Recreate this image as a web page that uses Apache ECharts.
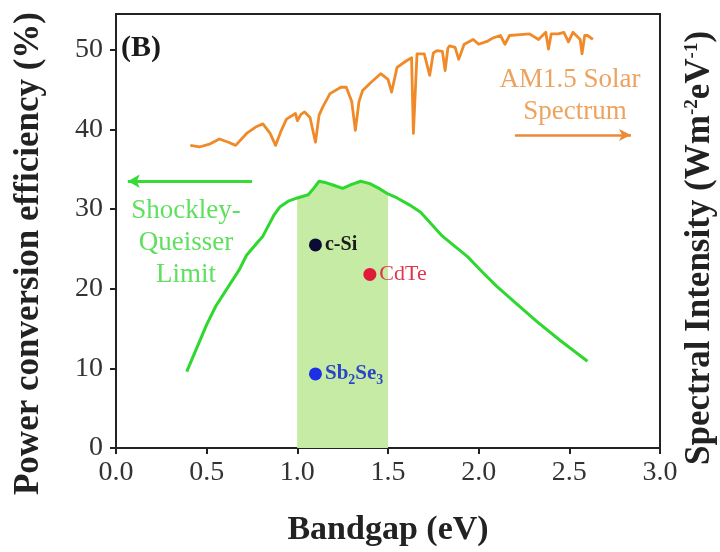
<!DOCTYPE html>
<html><head><meta charset="utf-8">
<script src="https://cdn.jsdelivr.net/npm/echarts@6/dist/echarts.min.js"></script>
<style>html,body{margin:0;padding:0;background:#fff}#c{width:720px;height:552px}</style>
</head><body><div id="c"></div>
<script>
// ---- data ----
var xTicks = [0, 0.5, 1.0, 1.5, 2.0, 2.5, 3.0];
var yTicks = [0, 10, 20, 30, 40, 50];
// Shockley-Queisser limit (bandgap eV, PCE %)
var sqX = [0.39,0.50,0.55,0.68,0.72,0.78,0.81,0.87,0.905,0.95,1.0,1.06,1.09,1.12,1.16,1.20,1.25,1.30,1.35,1.40,1.45,1.50,1.55,1.62,1.68,1.80,1.94,2.02,2.10,2.20,2.32,2.45,2.60];
var sqY = [9.6,15.5,17.8,22.4,24.2,25.8,26.6,29.2,30.3,31.0,31.4,31.8,32.6,33.5,33.3,33.0,32.6,33.1,33.5,33.2,32.6,31.9,31.4,30.5,29.6,26.6,24.0,22.1,20.3,18.3,15.9,13.5,10.9];
// AM1.5 solar spectrum (photon energy eV, relative intensity on right axis)
var specX = [0.41,0.46,0.52,0.57,0.62,0.66,0.72,0.77,0.81,0.85,0.88,0.91,0.94,0.99,1.00,1.02,1.04,1.07,1.10,1.12,1.14,1.18,1.24,1.27,1.30,1.32,1.34,1.36,1.41,1.46,1.50,1.52,1.55,1.60,1.63,1.64,1.66,1.70,1.73,1.75,1.77,1.80,1.815,1.83,1.84,1.87,1.89,1.92,1.97,2.00,2.05,2.08,2.12,2.145,2.17,2.23,2.28,2.33,2.37,2.385,2.40,2.44,2.47,2.495,2.52,2.56,2.57,2.585,2.60,2.63];
var specY = [38.0,37.8,38.2,38.8,38.4,38.0,39.5,40.3,40.7,39.5,38.0,39.8,41.3,42.0,41.1,41.9,42.2,41.5,38.4,41.8,42.8,44.5,45.3,45.3,43.5,39.9,43.5,44.9,46.0,47.0,46.3,44.7,47.8,48.6,49.0,39.5,49.5,49.5,46.8,49.6,49.9,49.8,47.4,50.2,50.5,50.3,48.8,50.7,51.3,50.7,51.1,51.5,51.8,50.7,51.8,51.9,52.0,51.3,52.2,50.1,52.0,52.0,52.2,51.0,52.2,51.3,49.5,51.8,51.8,51.3];
// Devices
var materials = ['c-Si', 'CdTe', 'Sb2Se3'];
var matGap = [1.1, 1.4, 1.1];
var matPCE = [25.5, 21.8, 9.3];
var bandRange = [1.0, 1.5];

// ---- chart ----
var serif = '"Liberation Serif","Times New Roman",serif';
var zip = function(a, b){ return a.map(function(v,i){ return [v, b[i]]; }); };
var sqPts = zip(sqX, sqY);
var bandPts = sqPts.filter(function(p){ return p[0] >= bandRange[0] && p[0] <= bandRange[1]; });
var matColors = {'c-Si':'#0b0b35','CdTe':'#e01a38','Sb2Se3':'#1d2fe6'};
var labelFmt = {
  'c-Si': '{k|c-Si}',
  'CdTe': '{r|CdTe}',
  'Sb2Se3': '{b|Sb}{bs|2}{b|Se}{bs|3}'
};

var chart = echarts.init(document.getElementById('c'), null, {renderer:'canvas'});
chart.setOption({
  animation: false,
  backgroundColor: '#fff',
  grid: {left:116, right:60, top:14, bottom:103, show:true, borderColor:'#222', borderWidth:2, backgroundColor:'transparent'},
  xAxis: {
    type:'value', min:0, max:3, interval:0.5,
    name:'Bandgap (eV)', nameLocation:'middle', nameGap:65,
    nameTextStyle:{fontFamily:serif, fontWeight:'bold', fontSize:34, color:'#222'},
    axisLine:{show:true, lineStyle:{color:'#222', width:2}},
    axisTick:{show:true, inside:false, length:6, lineStyle:{color:'#222', width:2}},
    axisLabel:{fontFamily:serif, fontSize:28, color:'#333', margin:11,
      formatter:function(v){ return xTicks.indexOf(v) >= 0 ? v.toFixed(1) : ''; }},
    splitLine:{show:false}
  },
  yAxis: [{
    type:'value', min:0, max:54.5, interval:10,
    name:'Power conversion efficiency (%)', nameLocation:'middle', nameGap:70,
    nameTextStyle:{fontFamily:serif, fontWeight:'bold', fontSize:35, color:'#222', padding:[0,0,0,-45]},
    axisLine:{show:true, lineStyle:{color:'#222', width:2}},
    axisTick:{show:true, length:6, lineStyle:{color:'#222', width:2}, customValues:yTicks},
    axisLabel:{fontFamily:serif, fontSize:28, color:'#333', margin:13, customValues:yTicks,
      formatter:function(v){ return String(v); }},
    splitLine:{show:false}
  },{
    type:'value', min:0, max:54.5, position:'right',
    axisLine:{show:true, lineStyle:{color:'#222', width:2}},
    axisTick:{show:false}, axisLabel:{show:false}, splitLine:{show:false}
  }],
  series: [
    {
      name:'band', type:'line', data:bandPts, symbol:'none', silent:true, z:1,
      lineStyle:{width:0}, areaStyle:{color:'#c6eba4', opacity:1, origin:'start'},
      markArea:{silent:true, itemStyle:{color:'#c6eba4'}, data:[[{xAxis:bandRange[0], yAxis:0},{xAxis:bandRange[1], yAxis:bandPts[0][1]-0.5}]]}
    },
    {
      name:'AM1.5 Solar Spectrum', type:'line', yAxisIndex:1, data:zip(specX, specY), symbol:'none', z:3,
      lineStyle:{color:'#f08a28', width:2.8, join:'round'},
      markLine:{silent:true, symbol:['none','arrow'], symbolSize:[9,12], label:{show:false},
        lineStyle:{color:'#ec8a3a', width:2.5, type:'solid'},
        data:[[{coord:[2.20,39.3]},{coord:[2.84,39.3]}]]}
    },
    {
      name:'Shockley-Queisser Limit', type:'line', data:sqPts, symbol:'none', z:4,
      lineStyle:{color:'#2ed82e', width:3},
      markLine:{silent:true, symbol:['none','arrow'], symbolSize:[10,12], label:{show:false},
        lineStyle:{color:'#35dc35', width:3, type:'solid'},
        data:[[{coord:[0.75,33.5]},{coord:[0.065,33.5]}]]}
    },
    {
      name:'devices', type:'scatter', z:5, symbolSize:13,
      data: materials.map(function(m,i){
        return {value:[matGap[i], matPCE[i]], name:m, itemStyle:{color:matColors[m], opacity:1}};
      }),
      label:{show:true, position:'right', distance:3,
        formatter:function(p){ return labelFmt[p.name]; },
        rich:{
          k:{fontFamily:serif, fontWeight:'bold', fontSize:20, color:'#1a1a1a'},
          r:{fontFamily:serif, fontSize:22, color:'#e0354a'},
          b:{fontFamily:serif, fontWeight:'bold', fontSize:21, color:'#2b45c8'},
          bs:{fontFamily:serif, fontWeight:'bold', fontSize:14, color:'#2b45c8', verticalAlign:'bottom', padding:[12,0,0,0]}
        }}
    }
  ],
  graphic: [
    {type:'text', left:121, top:33, style:{text:'(B)', font:'bold 30px '+serif, fill:'#1a1a1a'}},
    {type:'text', x:186, y:211, style:{text:'Shockley-', font:'27px '+serif, fill:'#5ee05e', align:'center', verticalAlign:'middle'}},
    {type:'text', x:186, y:243, style:{text:'Queisser', font:'27px '+serif, fill:'#5ee05e', align:'center', verticalAlign:'middle'}},
    {type:'text', x:186, y:275, style:{text:'Limit', font:'27px '+serif, fill:'#5ee05e', align:'center', verticalAlign:'middle'}},
    {type:'text', x:570, y:80, style:{text:'AM1.5 Solar', font:'27px '+serif, fill:'#eba35e', align:'center', verticalAlign:'middle'}},
    {type:'text', x:575, y:112, style:{text:'Spectrum', font:'27px '+serif, fill:'#eba35e', align:'center', verticalAlign:'middle'}},
    {type:'text', x:700, y:248, rotation:Math.PI/2,
      style:{text:'{t|Spectral Intensity (Wm}{s|-2}{t|eV}{s|-1}{t|)}', align:'center', verticalAlign:'middle',
        rich:{
          t:{fontFamily:serif, fontWeight:'bold', fontSize:35, fill:'#222'},
          s:{fontFamily:serif, fontWeight:'bold', fontSize:19, fill:'#222', verticalAlign:'top', padding:[0,0,16,0]}
        }}}
  ]
});
</script></body></html>
